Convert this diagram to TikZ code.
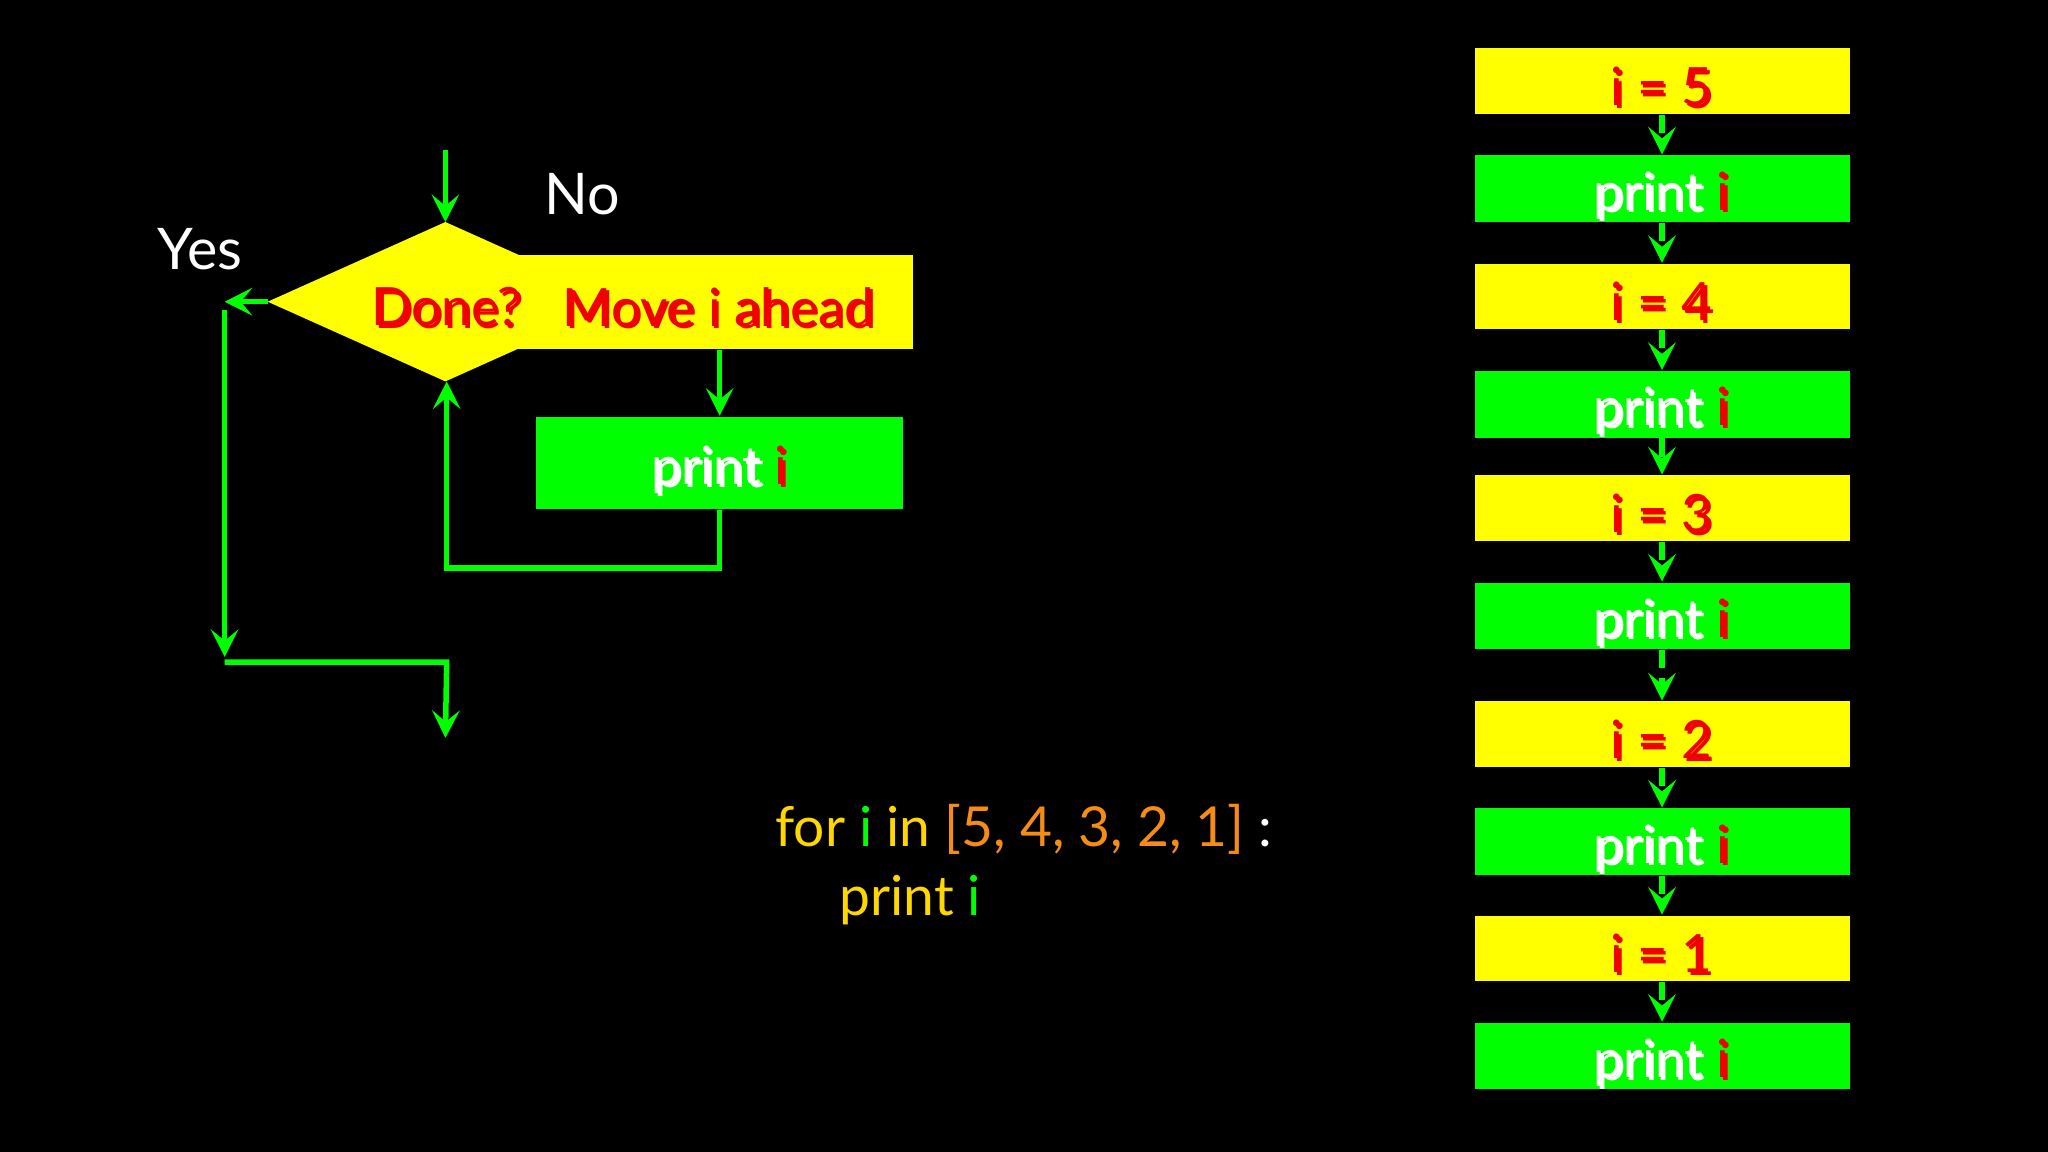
\documentclass[tikz,border=0pt]{standalone}
\usepackage{fontspec}
\setmainfont{Lato}
\usetikzlibrary{arrows.meta}
\definecolor{gr}{RGB}{0,255,0}
\definecolor{yl}{RGB}{255,255,0}
\definecolor{rd}{RGB}{240,0,0}
\definecolor{og}{RGB}{245,140,20}
\definecolor{cy}{RGB}{255,215,0}
\newcommand{\shtxt}[3]{% pos, name, text
  \node[txt,text=black!80,xshift=0.6pt,yshift=-0.6pt] at #1 {#3};
  \node[txt] (#2) at #1 {#3};}
\tikzset{
  txt/.style={inner sep=0pt,font=\fontsize{11.5}{13}\selectfont},
  conn/.style={draw=gr,line width=1.2pt,-{Stealth[length=6pt,width=6pt,inset=2.5pt]}},
  dconn/.style={conn,dash pattern=on 4pt off 2pt},
  ybox/.style={fill=yl,draw=none,minimum width=2.87cm,minimum height=0.5cm,inner sep=0pt},
  gbox/.style={fill=gr,draw=none,minimum width=2.87cm,minimum height=0.51cm,inner sep=0pt},
}
\begin{document}
\begin{tikzpicture}[x=0.01cm,y=-0.01cm]
\fill[black] (0,0) rectangle (1568,882);
\useasboundingbox (0,0) rectangle (1568,882);
% flowchart
\path[fill=yl] (205,231) -- (341,170) -- (477,231) -- (341,292) -- cycle;
\coordinate (dtop) at (341,170);
\coordinate (dbot) at (342,292);
\coordinate (dleft) at (205,231);
\node[fill=yl,minimum width=3.04cm,minimum height=0.72cm,inner sep=0pt] (move) at (547,231) {};
\node[fill=gr,minimum width=2.81cm,minimum height=0.71cm,inner sep=0pt] (pr) at (551,354.5) {};
\shtxt{(342,235)}{tdone}{\color{rd}Done?}
\shtxt{(550,235)}{tmove}{\color{rd}Move i ahead}
\shtxt{(551,360)}{tpr}{\color{white}print \color{rd}i}
\node[txt,text=white,font=\fontsize{12.5}{14}\selectfont] (yes) at (153,191) {Yes};
\node[txt,text=white,font=\fontsize{12.5}{14}\selectfont] (no) at (446,149) {No};
\coordinate (start) at (341,115);
\draw[conn] (start) -- (dtop);
\draw[conn] (move.south -| pr.north) -- (pr.north);
\coordinate (l1) at (551,435);
\coordinate (l2) at (342,435);
\draw[conn] (pr.south) -- (l1) -- (l2) -- (dbot);
\coordinate (y1) at (172,231);
\draw[conn] (dleft) -- (y1);
\coordinate (y2) at (172,237);
\coordinate (y3) at (172,503);
\draw[conn] (y2) -- (y3);
\coordinate (e1) at (172,507);
\coordinate (e2) at (342,507);
\coordinate (e3) at (341,565);
\draw[conn] (e1) -- (e2) -- (e3);
% code
\node[txt,anchor=base west,font=\fontsize{12}{14}\selectfont] (code1) at (593,648) {\color{cy}for \color{gr}i \color{cy}in \color{og}[5, 4, 3, 2, 1] \color{white}:};
\node[txt,anchor=base west,font=\fontsize{12}{14}\selectfont] (code2) at (642,701) {\color{cy}print \color{gr}i};
% right column
\foreach \n/\yy/\t in {y5/62/5,y4/227/4,y3/389/3,y2/562/2,y1/726/1}{
  \node[ybox] (\n) at (1272.5,\yy) {};
  \shtxt{(1272,\yy+4)}{t\n}{\color{rd}i = \t}
}
\foreach \n/\yy in {g5/144.5,g4/309.5,g3/471.5,g2/644.5,g1/808.5}{
  \node[gbox] (\n) at (1272.5,\yy) {};
  \shtxt{(1272,\yy+5)}{t\n}{\color{white}print \color{rd}i}
}
\draw[dconn] (y5) -- (g5);
\draw[dconn] (g5) -- (y4);
\draw[dconn] (y4) -- (g4);
\draw[dconn] (g4) -- (y3);
\draw[dconn] (y3) -- (g3);
\draw[dconn] (g3) -- (y2);
\draw[dconn] (y2) -- (g2);
\draw[dconn] (g2) -- (y1);
\draw[dconn] (y1) -- (g1);
\end{tikzpicture}
\end{document}
